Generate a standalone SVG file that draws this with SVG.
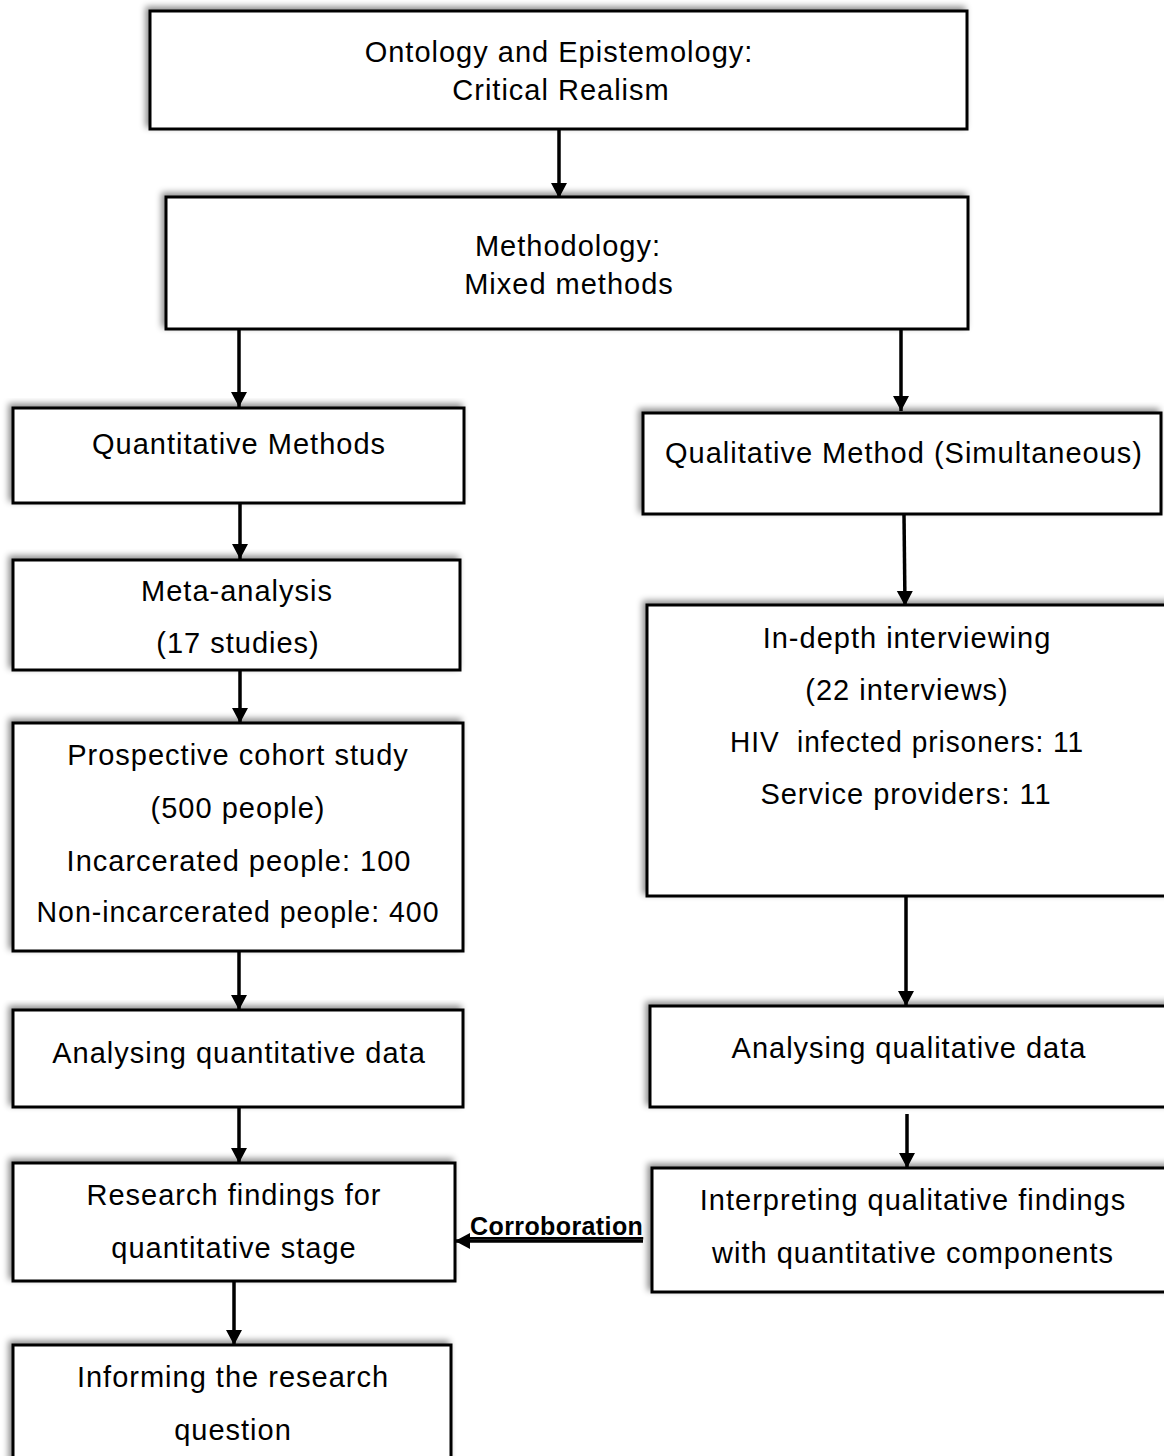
<svg xmlns="http://www.w3.org/2000/svg" width="1164" height="1456" viewBox="0 0 1164 1456">
  <style>
    .box { fill: #ffffff; stroke: #000000; stroke-width: 3; filter: url(#soft); }
    .t { font-family: "Liberation Sans", Arial, sans-serif; font-size: 29px; letter-spacing: 1px; fill: #000000; text-anchor: middle; }
    .lbl { font-family: "Liberation Sans", Arial, sans-serif; font-size: 25px; font-weight: bold; letter-spacing: 0.4px; fill: #000000; text-decoration: underline; }
    .arrow { stroke: #000000; stroke-width: 3.5; fill: none; marker-end: url(#head); }
  </style>
  <defs>
    <filter id="soft" x="-5%" y="-10%" width="110%" height="120%">
      <feDropShadow dx="-3" dy="-3" stdDeviation="3" flood-color="#000000" flood-opacity="0.45"/>
    </filter>
    <marker id="head" markerUnits="userSpaceOnUse" markerWidth="18" markerHeight="18" refX="15" refY="8" orient="auto">
      <path d="M0,0 L15,8 L0,16 Z" fill="#000000"/>
    </marker>
  </defs>

  <rect width="1164" height="1456" fill="#ffffff"/>

  <!-- connectors -->
  <g id="connectors">
    <line class="arrow" x1="559" y1="130" x2="559" y2="198"/>
    <line class="arrow" x1="239" y1="330" x2="239" y2="407"/>
    <line class="arrow" x1="901" y1="330" x2="901" y2="411"/>
    <line class="arrow" x1="240" y1="504" x2="240" y2="559"/>
    <line class="arrow" x1="904" y1="515" x2="905" y2="606"/>
    <line class="arrow" x1="240" y1="671" x2="240" y2="723"/>
    <line class="arrow" x1="239" y1="952" x2="239" y2="1010"/>
    <line class="arrow" x1="906" y1="897" x2="906" y2="1006"/>
    <line class="arrow" x1="239" y1="1108" x2="239" y2="1163"/>
    <line class="arrow" x1="907" y1="1114" x2="907" y2="1168"/>
    <line class="arrow" x1="234" y1="1282" x2="234" y2="1345"/>
    <line class="arrow" x1="643" y1="1241" x2="455" y2="1241"/>
    <text class="lbl" x="470" y="1235">Corroboration</text>
  </g>

  <g id="ontology">
    <rect class="box" x="150" y="11" width="817" height="118"/>
    <text class="t" x="559" y="62">Ontology and Epistemology:</text>
    <text class="t" x="561" y="100">Critical Realism</text>
  </g>

  <g id="methodology">
    <rect class="box" x="166" y="197" width="802" height="132"/>
    <text class="t" x="568" y="256">Methodology:</text>
    <text class="t" x="569" y="294">Mixed methods</text>
  </g>

  <g id="quantitative">
    <rect class="box" x="13" y="408" width="451" height="95"/>
    <text class="t" x="239" y="454">Quantitative Methods</text>
  </g>

  <g id="qualitative">
    <rect class="box" x="643" y="413" width="518" height="101"/>
    <text class="t" x="904" y="463">Qualitative Method (Simultaneous)</text>
  </g>

  <g id="meta-analysis">
    <rect class="box" x="13" y="560" width="447" height="110"/>
    <text class="t" x="237" y="601">Meta-analysis</text>
    <text class="t" x="238" y="653">(17 studies)</text>
  </g>

  <g id="cohort">
    <rect class="box" x="13" y="723" width="450" height="228"/>
    <text class="t" x="238" y="765">Prospective cohort study</text>
    <text class="t" x="238" y="818">(500 people)</text>
    <text class="t" x="239" y="871">Incarcerated people: 100</text>
    <text class="t" x="238" y="922" textLength="403" lengthAdjust="spacingAndGlyphs">Non-incarcerated people: 400</text>
  </g>

  <g id="interviewing">
    <rect class="box" x="647" y="605" width="530" height="291"/>
    <text class="t" x="907" y="648">In-depth interviewing</text>
    <text class="t" x="907" y="700">(22 interviews)</text>
    <text class="t" x="907" y="752" style="white-space:pre" textLength="354" lengthAdjust="spacingAndGlyphs">HIV  infected prisoners: 11</text>
    <text class="t" x="906" y="804">Service providers: 11</text>
  </g>

  <g id="analysing-quantitative">
    <rect class="box" x="13" y="1010" width="450" height="97"/>
    <text class="t" x="239" y="1063">Analysing quantitative data</text>
  </g>

  <g id="analysing-qualitative">
    <rect class="box" x="650" y="1006" width="527" height="101"/>
    <text class="t" x="909" y="1058">Analysing qualitative data</text>
  </g>

  <g id="findings">
    <rect class="box" x="13" y="1163" width="442" height="118"/>
    <text class="t" x="234" y="1205">Research findings for</text>
    <text class="t" x="234" y="1258">quantitative stage</text>
  </g>

  <g id="interpreting">
    <rect class="box" x="652" y="1168" width="525" height="124"/>
    <text class="t" x="913" y="1210">Interpreting qualitative findings</text>
    <text class="t" x="913" y="1263">with quantitative components</text>
  </g>

  <g id="informing">
    <rect class="box" x="13" y="1345" width="438" height="125"/>
    <text class="t" x="233" y="1387">Informing the research</text>
    <text class="t" x="233" y="1440">question</text>
  </g>
</svg>
